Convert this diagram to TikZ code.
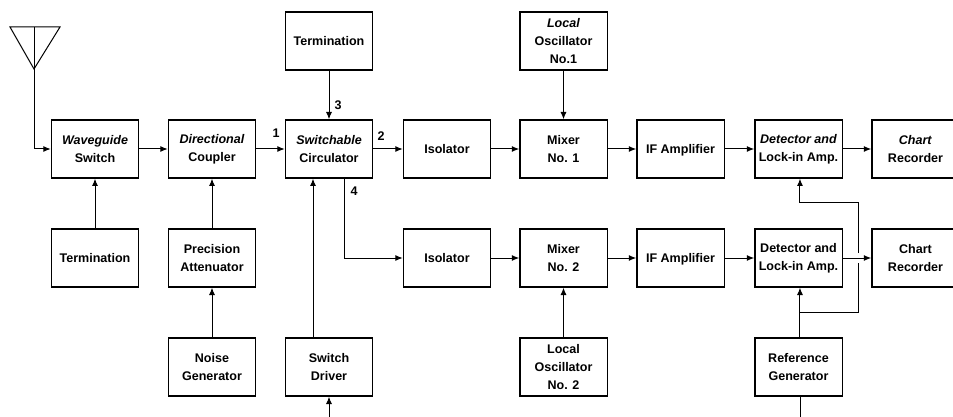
\documentclass[tikz,border=0pt]{standalone}
\usepackage{fontspec}
\setmainfont{Liberation Sans}
\usetikzlibrary{arrows.meta,calc}
\tikzset{
  x=0.75pt,y=-0.75pt,
  blk/.style={draw,line width=1pt,minimum width=65.5pt,minimum height=43.5pt,inner sep=0pt,align=center,
    font=\fontsize{9.4}{13.8}\selectfont\bfseries},
  con/.style={line width=0.75pt,-{Latex[length=5.5pt,width=4.5pt]}},
  pln/.style={line width=0.75pt},
  portlab/.style={font=\fontsize{9.4}{10}\selectfont\bfseries,inner sep=0pt}
}
\newcommand{\itl}[1]{\textit{#1}}
\begin{document}
\begin{tikzpicture}
\useasboundingbox (0,0) rectangle (953,417);
\clip (0,0) rectangle (953,417);
\fill[white] (0,0) rectangle (953,417);
% row y centres: 41, 149, 258, 367
\node[blk] (term1) at (329,41) {Termination};
\node[blk] (lo1) at (563.5,41) {\itl{Local}\\Oscillator\\No.1};
\node[blk] (wg) at (95,149) {\itl{Waveguide}\\Switch};
\node[blk] (dc) at (212,149) {\itl{Directional}\\Coupler};
\node[blk] (sc) at (329,149) {\itl{Switchable}\\Circulator};
\node[blk] (iso1) at (447,149) {Isolator};
\node[blk] (mx1) at (563.5,149) {Mixer\\No. 1};
\node[blk] (if1) at (680.5,149) {IF Am\smash{p}lifier};
\node[blk] (det1) at (798.5,149) {\itl{Detector and}\\Lock-in Amp.};
\node[blk] (cr1) at (915.5,149) {\itl{Chart}\\Recorder};
\node[blk] (term2) at (95,258) {Termination};
\node[blk] (pa) at (212,258) {Precision\\Attenuator};
\node[blk] (iso2) at (447,258) {Isolator};
\node[blk] (mx2) at (563.5,258) {Mixer\\No. 2};
\node[blk] (if2) at (680.5,258) {IF Am\smash{p}lifier};
\node[blk] (det2) at (798.5,258) {Detector and\\Lock-in Amp.};
\node[blk] (cr2) at (915.5,258) {Chart\\Recorder};
\node[blk] (ng) at (212,367) {Noise\\Generator};
\node[blk] (sd) at (329,367) {Switch\\Driver};
\node[blk] (lo2) at (563.5,367) {Local\\Oscillator\\No. 2};
\node[blk] (rg) at (798.5,367) {Reference\\Generator};
% antenna
\coordinate (ant1) at (10,27);
\coordinate (ant2) at (60,27);
\coordinate (ant3) at (34,69);
\coordinate (ant4) at (34,27);
\draw[pln,line join=miter] (ant1) -- (ant2) -- (ant3) -- cycle;
\draw[pln] (ant4) -- (ant3);
\draw[con] (ant3) |- (wg.west);
% horizontal top
\draw[con] (wg) -- (dc);
\draw[con] (dc) -- (sc);
\draw[con] (sc) -- (iso1);
\draw[con] (iso1) -- (mx1);
\draw[con] (mx1) -- (if1);
\draw[con] (if1) -- (det1);
\draw[con] (det1) -- (cr1);
% horizontal bottom
\draw[con] (iso2) -- (mx2);
\draw[con] (mx2) -- (if2);
\draw[con] (if2) -- (det2);
\draw[con] (det2) -- (cr2);
% verticals
\draw[con] (term1) -- (sc);
\draw[con] (lo1) -- (mx1);
\draw[con] (term2) -- (wg);
\draw[con] (pa) -- (dc);
\draw[con] (ng) -- (pa);
\draw[con] (lo2) -- (mx2);
\draw[con] ([xshift=-12pt]sd.north) -- ([xshift=-12pt]sc.south);
\coordinate (p4) at ([xshift=11.25pt]sc.south);
\draw[con] (p4) |- (iso2.west);
% reference
\coordinate (rtop) at ([xshift=1.1pt]rg.north);
\coordinate (dettop) at ([xshift=1.1pt]det2.south);
\draw[con] (rtop) -- (dettop);
\coordinate (j1) at ($(rtop)!0.5!(dettop)$);
\coordinate (j3) at (858,203);
\coordinate (j2) at (j1 -| j3);
\coordinate (g1) at (858,263);
\coordinate (g2) at (858,253);
\coordinate (j4) at ([xshift=1.1pt]det1.south);
\draw[pln] (j1) -- (j2) -- (g1);
\draw[con] (g2) -- (j3) -| (j4);
% free ends at the bottom
\coordinate (sdin) at (329,417);
\draw[con] (sdin) -- (sd.south);
\coordinate (rgout) at (800,417);
\draw[pln] (rg.south -| rgout) -- (rgout);
% port labels
\node[portlab] (l1) at (276,133) {1};
\node[portlab] (l2) at (381,136) {2};
\node[portlab] (l3) at (338,105) {3};
\node[portlab] (l4) at (354,191) {4};
\end{tikzpicture}
\end{document}
